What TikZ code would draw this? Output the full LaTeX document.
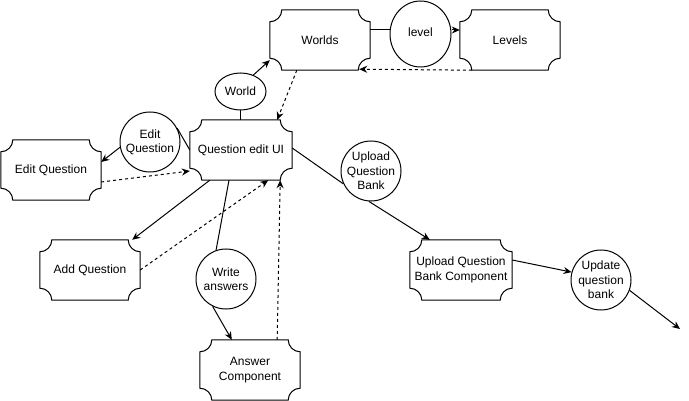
\documentclass[tikz,border=0pt]{standalone}
\usepackage{fontspec}
\setmainfont{Liberation Sans}
\usetikzlibrary{calc,arrows.meta,shapes.geometric}
\tikzset{
  x=1pt,y=1pt,
  every node/.style={font=\fontsize{12}{14.4}\selectfont, align=center, text=black},
  plaquebox/.style={draw=none, minimum width=100pt, minimum height=60pt, inner sep=0pt},
  bubble/.style={draw, line width=1pt, circle, minimum size=60pt, inner sep=-12pt},
  oval/.style={draw, line width=1pt, ellipse, inner sep=-12pt},
  conn/.style={line width=1pt, black},
  arr/.style={conn, -{Stealth[length=8pt,width=7pt]}},
  darr/.style={arr, dash pattern=on 3pt off 3pt},
}
\newcommand\plaqueoutline[1]{%
  \draw[line width=1pt] ($(#1.north west)+(12pt,0)$) -- ($(#1.north east)+(-12pt,0)$)
    arc[start angle=180,end angle=270,radius=12pt] -- ($(#1.south east)+(0,12pt)$)
    arc[start angle=90,end angle=180,radius=12pt] -- ($(#1.south west)+(12pt,0)$)
    arc[start angle=0,end angle=90,radius=12pt] -- ($(#1.north west)+(0,-12pt)$)
    arc[start angle=270,end angle=360,radius=12pt] -- cycle;}
\begin{document}
\begin{tikzpicture}
\useasboundingbox (0,0) rectangle (689,-401);
% plaque nodes
\node[plaquebox] (worlds) at (320,-40) {Worlds};
\node[plaquebox] (levels) at (510,-40) {Levels};
\node[plaquebox, minimum width=102pt] (qeui) at (241,-150) {Question edit UI};
\node[plaquebox] (editq) at (51,-170) {Edit Question};
\node[plaquebox] (addq) at (90,-270) {Add Question};
\node[plaquebox] (answer) at (250,-370) {Answer\\Component};
\node[plaquebox, minimum width=102pt] (uqbc) at (461,-270) {Upload Question\\Bank Component};
\foreach \n in {worlds,levels,qeui,editq,addq,answer,uqbc} {\plaqueoutline{\n}}
% circles / ellipses
\node[oval, minimum width=61pt, minimum height=66pt] (level) at (420.5,-34) {\raisebox{4pt}{level}};
\node[oval, minimum width=51pt, minimum height=37pt] (world) at (240.5,-91.5) {World};
\node[bubble] (eqc) at (150,-142) {Edit\\Question};
\node[bubble] (wa) at (226,-279) {Write\\answers};
\node[bubble] (uqb) at (371,-171) {Upload\\Question\\Bank};
\node[bubble] (upd) at (601,-280) {Update\\question\\bank};
\coordinate (endpt) at (680,-329);
% connectors
\draw[conn] ($(worlds.east)+(0,10pt)$) -- (level.west |- {$(worlds.east)+(0,10pt)$});
\draw[arr] (level.east |- {$(levels.west)+(0,10pt)$}) -- ($(levels.west)+(0,10pt)$);
\draw[darr] ($(levels.south west)+(12pt,0)$) -- ($(worlds.south east)+(-11pt,1pt)$);
\draw[arr] (world.52) -- ($(worlds.south west)+(0,10pt)$);
\draw[conn] (world.south) -- (world.south |- qeui.north);
\draw[darr] ($(worlds.south west)+(27pt,0)$) -- ($(qeui.north east)+(-15pt,0)$);
\draw[conn] (qeui.west) -- (eqc.27);
\draw[arr] (eqc.190) -- ($(editq.east)+(0,8pt)$);
\draw[darr] ($(editq.east)+(0,-12pt)$) -- ($(qeui.west)+(0,-21pt)$);
\draw[arr] ($(qeui.south west)+(20pt,0)$) -- ($(addq.north east)+(-8pt,0)$);
\draw[darr] (addq.east) -- ($(qeui.south east)+(-24pt,0)$);
\draw[conn] ($(qeui.south)+(-12pt,0)$) -- (wa.109);
\draw[arr] (wa.244) -- ($(answer.north west)+(32pt,0)$);
\draw[darr] ($(answer.north east)+(-23pt,0)$) -- ($(qeui.south east)+(-12pt,0)$);
\draw[conn] ($(qeui.east)+(0,2pt)$) -- (uqb.205);
\draw[arr] (uqb.266) -- ($(uqbc.north west)+(20pt,0)$);
\draw[arr] ($(uqbc.east)+(0,10pt)$) -- (upd.165);
\draw[arr] (upd.-20) -- (endpt);
\end{tikzpicture}
\end{document}
